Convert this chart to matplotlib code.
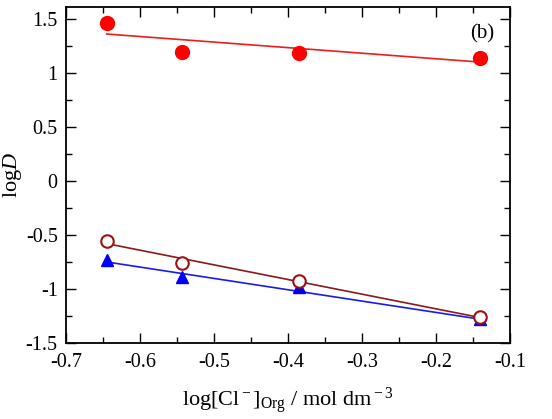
import matplotlib
matplotlib.use("Agg")
import matplotlib.pyplot as plt
from matplotlib.ticker import MultipleLocator

plt.rcParams['font.family'] = ['Liberation Serif', 'DejaVu Serif']
plt.rcParams['mathtext.fontset'] = 'custom'
plt.rcParams['mathtext.rm'] = 'Liberation Serif'
plt.rcParams['mathtext.it'] = 'Liberation Serif:italic'
plt.rcParams['mathtext.bf'] = 'Liberation Serif:bold'

# data
x_cl = [-0.645, -0.543, -0.385, -0.140]
logd_filled = [1.466, 1.197, 1.180, 1.140]
logd_open = [-0.553, -0.762, -0.926, -1.262]
logd_tri = [-0.730, -0.886, -0.980, -1.280]

# fit lines (end points)
fit_x = [-0.645, -0.140]
fit_filled = [1.36, 1.10]
fit_open = [-0.58, -1.265]
fit_tri = [-0.75, -1.28]

fig = plt.figure(figsize=(5.52, 4.19), dpi=100)
ax = fig.add_axes([66 / 552, 1 - 343 / 419, 444 / 552, 336 / 419])

ax.plot(fit_x, fit_filled, color='#ee1c1c', lw=1.2, zorder=2)
ax.plot(fit_x, fit_open, color='#8b1a1a', lw=1.2, zorder=2)
ax.plot(fit_x, fit_tri, color='#1a1aee', lw=1.2, zorder=2)

ax.plot(x_cl, logd_filled, 'o', color='#ff0000', ms=10, mec='#ff0000', zorder=3)
ax.plot(x_cl, logd_tri, '^', color='#0000ff', ms=9, mec='#0000ff', zorder=3)
ax.plot(x_cl, logd_open, 'o', mfc='white', mec='#a01010', mew=1.5, ms=9, zorder=4)

ax.set_xlim(-0.7, -0.1)
ax.set_ylim(-1.5, 1.61)
ax.xaxis.set_minor_locator(MultipleLocator(0.05))
ax.yaxis.set_minor_locator(MultipleLocator(0.25))
ax.set_xticks([-0.7, -0.6, -0.5, -0.4, -0.3, -0.2, -0.1])
ax.set_xticklabels(['-0.7', '-0.6', '-0.5', '-0.4', '-0.3', '-0.2', '-0.1'])
ax.set_yticks([-1.5, -1, -0.5, 0, 0.5, 1, 1.5])
ax.set_yticklabels(['-1.5', '-1', '-0.5', '0', '0.5', '1', '1.5'])
ax.tick_params(which='both', direction='in', top=True, right=True, labelsize=14.5)
ax.tick_params(which='major', length=7, width=1)
ax.tick_params(which='minor', length=4, width=1)
ax.tick_params(axis='x', pad=7)
ax.tick_params(axis='y', pad=6)
for s in ax.spines.values():
    s.set_linewidth(1.3)

ax.set_ylabel(r'log$\boldsymbol{\mathit{D}}$', fontsize=16, labelpad=1)
ax.set_xlabel(r'log[Cl$^{\rm -}$]$_{\rm Org}$ / mol dm$^{\rm -3}$', fontsize=16, labelpad=10)
ax.text(0.965, 0.92, '(b)', transform=ax.transAxes, ha='right', va='center', fontsize=15)

fig.savefig('out.png', dpi=100)
